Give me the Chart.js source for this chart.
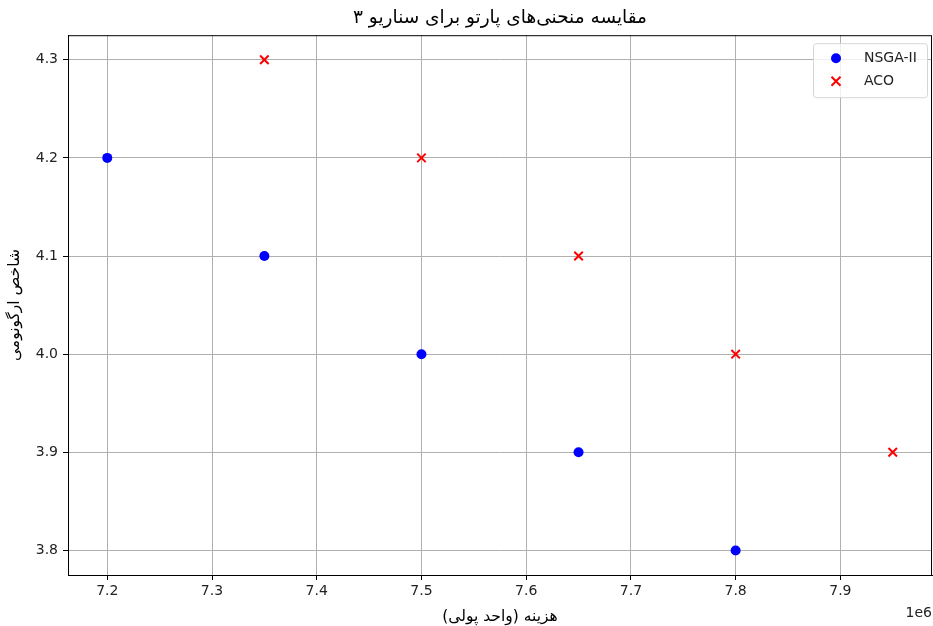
<!DOCTYPE html>
<html>
<head>
<meta charset="utf-8">
<script src="https://cdn.jsdelivr.net/npm/chart.js@4"></script>
<style>
  html, body { margin: 0; padding: 0; background: #fff; overflow: hidden; }
  #wrap { width: 933px; height: 626px; }
</style>
</head>
<body>
<div id="wrap"><canvas id="paretoChart"></canvas></div>
<script>
// Pareto fronts, scenario 3 (cost in raw units, ergonomics index)
const nsgaCost = [7200000, 7350000, 7500000, 7650000, 7800000];
const nsgaErgo = [4.2, 4.1, 4.0, 3.9, 3.8];
const acoCost = [7350000, 7500000, 7650000, 7800000, 7950000];
const acoErgo = [4.3, 4.2, 4.1, 4.0, 3.9];
const xTicks = [7.2, 7.3, 7.4, 7.5, 7.6, 7.7, 7.8, 7.9];
const yTicks = [3.8, 3.9, 4.0, 4.1, 4.2, 4.3];

const FONT = "'DejaVu Sans', sans-serif";

const toPoints = (xs, ys) => xs.map((x, i) => ({ x: x, y: ys[i] }));

// matplotlib-like margins (5% each side)
const allX = nsgaCost.concat(acoCost), allY = nsgaErgo.concat(acoErgo);
const xMin = Math.min(...allX), xMax = Math.max(...allX);
const yMin = Math.min(...allY), yMax = Math.max(...allY);
const xPad = (xMax - xMin) * 0.05, yPad = (yMax - yMin) * 0.05;

// frame + "1e6" offset text + in-plot legend
const extras = {
  id: 'extras',
  afterDatasetsDraw(chart) {
    const { ctx, chartArea: a } = chart;
    ctx.save();
    ctx.strokeStyle = '#000';
    ctx.lineWidth = 1;
    ctx.strokeRect(a.left + 0.5, a.top + 0.5, a.right - a.left - 1, a.bottom - a.top);

    ctx.fillStyle = '#222';
    ctx.font = '14px ' + FONT;
    ctx.textAlign = 'right';
    ctx.textBaseline = 'middle';
    ctx.fillText('1e6', a.right, 613);

    // legend box
    const bx = a.right - 119, by = a.top + 8, bw = 114, bh = 54;
    ctx.fillStyle = 'rgba(255,255,255,0.8)';
    ctx.strokeStyle = '#d5d5d5';
    ctx.beginPath();
    ctx.roundRect(bx + 0.5, by + 0.5, bw, bh, 3);
    ctx.fill();
    ctx.stroke();

    chart.data.datasets.forEach((ds, i) => {
      const cy = by + 15 + i * 23;
      const cx = bx + 23;
      ctx.fillStyle = ds.backgroundColor;
      ctx.strokeStyle = ds.borderColor;
      if (ds.pointStyle === 'circle') {
        ctx.beginPath();
        ctx.arc(cx, cy, 5, 0, Math.PI * 2);
        ctx.fill();
      } else {
        ctx.lineWidth = 2;
        ctx.beginPath();
        ctx.moveTo(cx - 4.5, cy - 4.5); ctx.lineTo(cx + 4.5, cy + 4.5);
        ctx.moveTo(cx + 4.5, cy - 4.5); ctx.lineTo(cx - 4.5, cy + 4.5);
        ctx.stroke();
      }
      ctx.fillStyle = '#222';
      ctx.font = '14px ' + FONT;
      ctx.textAlign = 'left';
      ctx.fillText(ds.label, bx + 51, cy);
    });
    ctx.restore();
  }
};

new Chart(document.getElementById('paretoChart'), {
  type: 'scatter',
  data: {
    datasets: [{
      label: 'NSGA-II',
      data: toPoints(nsgaCost, nsgaErgo),
      pointStyle: 'circle',
      pointRadius: 5,
      backgroundColor: '#0000ff',
      borderColor: '#0000ff',
      borderWidth: 0
    }, {
      label: 'ACO',
      data: toPoints(acoCost, acoErgo),
      pointStyle: 'crossRot',
      pointRadius: 6,
      backgroundColor: '#ff0000',
      borderColor: '#ff0000',
      borderWidth: 2
    }]
  },
  options: {
    responsive: true,
    maintainAspectRatio: false,
    animation: false,
    layout: { autoPadding: false, padding: { left: 0, right: 1, top: 0, bottom: 0 } },
    plugins: {
      legend: { display: false },
      tooltip: { enabled: false },
      title: {
        display: true,
        fullSize: false,
        text: 'مقایسه منحنی‌های پارتو برای سناریو ۳',
        color: '#000',
        font: { family: FONT, size: 18.5, weight: 'normal' },
        padding: { top: 7, bottom: 6 }
      }
    },
    scales: {
      x: {
        type: 'linear',
        min: xMin - xPad,
        max: xMax + xPad,
        afterBuildTicks: s => { s.ticks = xTicks.map(v => ({ value: v * 1e6 })); },
        afterFit: s => { s.height = 51; },
        ticks: {
          callback: v => (v / 1e6).toFixed(1),
          color: '#222',
          font: { family: FONT, size: 14 },
          padding: 3,
          maxRotation: 0
        },
        grid: { color: '#b0b0b0', lineWidth: 1, tickLength: 5, tickColor: '#000' },
        border: { color: '#000', width: 1 },
        title: {
          display: true,
          text: 'هزینه (واحد پولی)',
          color: '#000',
          font: { family: FONT, size: 15.5 },
          padding: { top: 0, bottom: 0 }
        }
      },
      y: {
        type: 'linear',
        min: yMin - yPad,
        max: yMax + yPad,
        afterBuildTicks: s => { s.ticks = yTicks.map(v => ({ value: v })); },
        afterFit: s => { s.width = 68; },
        ticks: {
          callback: v => v.toFixed(1),
          color: '#222',
          font: { family: FONT, size: 14 },
          padding: 5
        },
        grid: { color: '#b0b0b0', lineWidth: 1, tickLength: 5, tickColor: '#000' },
        border: { color: '#000', width: 1 },
        title: {
          display: true,
          text: 'شاخص ارگونومی',
          color: '#000',
          font: { family: FONT, size: 15.5 },
          padding: { top: 6, bottom: 0 }
        }
      }
    }
  },
  plugins: [extras]
});
</script>
</body>
</html>
